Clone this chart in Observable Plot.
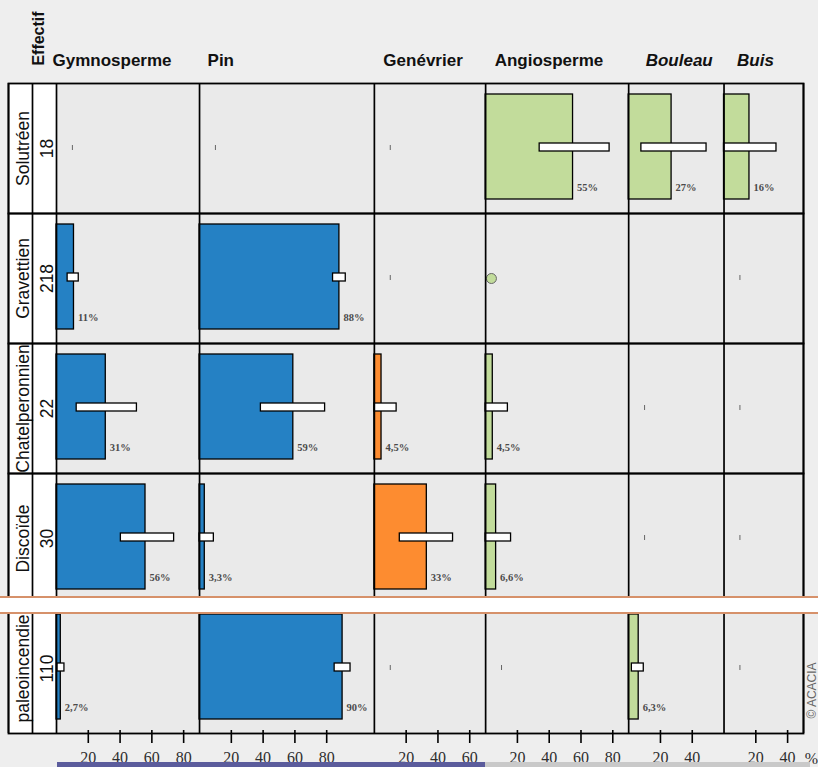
<!DOCTYPE html>
<html>
<head>
<meta charset="utf-8">
<script src="https://cdn.jsdelivr.net/npm/d3@7"></script>
<script src="https://cdn.jsdelivr.net/npm/@observablehq/plot@0.6"></script>
<style>
  html, body { margin: 0; padding: 0; background: #eeeeee; overflow: hidden; }
  #wrap { position: relative; width: 818px; height: 767px; }
  #chart svg { overflow: hidden; display: block; }
  .strip { position: absolute; top: 762px; height: 5px; }
</style>
</head>
<body>
<div id="wrap">
  <div id="chart"></div>
  <div class="strip" style="left:57px;width:428px;background:#5b5c9c;"></div>
  <div class="strip" style="left:485px;width:325px;background:#c9c9c9;"></div>
</div>
<script>
// ---- data ----
const rows = ["Solutréen", "Gravettien", "Chatelperonnien", "Discoïde", "paleoincendie"];
const effectifs = [18, 218, 22, 30, 110];
const taxa = ["Gymnosperme", "Pin", "Genévrier", "Angiosperme", "Bouleau", "Buis"];
const axisMax = [90, 110, 70, 90, 60, 50];
const tickLabels = [[20, 40, 60, 80], [20, 40, 60, 80], [20, 40, 60], [20, 40, 60, 80], [20, 40], [20, 40]];

// percentages per taxon, in row order (null = nothing drawn, 0 = absent)
const gymnosperme = [0, 11, 31, 56, 2.7];
const pin = [0, 88, 59, 3.3, 90];
const genevrier = [0, 0, 4.5, 33, 0];
const angiosperme = [55, 0.5, 4.5, 6.6, 0];
const bouleau = [27, null, 0, 0, 6.3];
const buis = [16, 0, 0, 0, 0];

// confidence intervals (low / high)
const gymnoLow = [null, 7, 12.7, 40.5, 0.6], gymnoHigh = [null, 14, 50.6, 74, 5];
const pinLow = [null, 84, 38.6, 0, 85], pinHigh = [null, 92, 79, 9, 95];
const genLow = [null, null, 0, 16, null], genHigh = [null, null, 14, 49.5, null];
const angioLow = [34, null, 0, 0, null], angioHigh = [78, null, 14, 16, null];
const bouleauLow = [8, null, null, null, 2], bouleauHigh = [49, null, null, null, 9.5];
const buisLow = [0, null, null, null, null], buisHigh = [33, null, null, null, null];

const absentMark = 10; // position of the small marker for 0 %

// ---- build tables ----
const series = [gymnosperme, pin, genevrier, angiosperme, bouleau, buis];
const lows = [gymnoLow, pinLow, genLow, angioLow, bouleauLow, buisLow];
const highs = [gymnoHigh, pinHigh, genHigh, angioHigh, bouleauHigh, buisHigh];
const offsets = axisMax.map((_, j) => d3.sum(axisMax.slice(0, j)));
const T = d3.sum(axisMax);

const cells = rows.flatMap((r, i) => taxa.map((t, j) => ({
  row: r, taxon: t, off: offsets[j],
  value: series[j][i], low: lows[j][i], high: highs[j][i]
})));
const bars = cells.filter(d => d.value != null && d.value >= 1);
const dots = cells.filter(d => d.value != null && d.value > 0 && d.value < 1);
const zeros = cells.filter(d => d.value === 0);
const cis = cells.filter(d => d.low != null && d.high != null);

const W = 818, H = 767, mL = 8, mR = 15, mT = 82, mB = 34;
const labelPx = 48;
const pxPerUnit = (W - mL - mR - labelPx) / T;
const L = labelPx / pxPerUnit;
const lastRow = rows[rows.length - 1];

const tickAbs = taxa.flatMap((t, j) => tickLabels[j].map(v => offsets[j] + v));
const tickText = new Map(taxa.flatMap((t, j) => tickLabels[j].map(v => [offsets[j] + v, String(v)])));
const boundaries = [-L, -L / 2, ...offsets, T];
const fmtPct = v => String(v).replace(".", ",") + "%";
const titleNudgePx = {Gymnosperme: -4, Pin: 8, "Genévrier": 9, Angiosperme: 9, Bouleau: 17, Buis: 13};
const italic = new Set(["Bouleau", "Buis"]);

const rowTable = rows.map((r, i) => ({row: r, n: effectifs[i]}));
const titles = taxa.map((t, j) => ({taxon: t, x: offsets[j] + titleNudgePx[t] / pxPerUnit, row: rows[0]}));
const axisTicks = tickAbs.map(v => ({x: v, row: lastRow}));

const chart = Plot.plot({
  width: W, height: H,
  marginLeft: mL, marginRight: mR, marginTop: mT, marginBottom: mB,
  style: {fontFamily: "Liberation Serif", fontSize: "16px", color: "#2e2e2e", background: "#eeeeee"},
  x: {domain: [-L, T], ticks: tickAbs, tickFormat: d => tickText.get(d) ?? "", tickSize: 0, tickPadding: 18, label: null},
  fy: {domain: rows, padding: 0, axis: null},
  color: {domain: taxa, range: ["#2581c4", "#2581c4", "#fd8c30", "#c2dc9b", "#c2dc9b", "#c2dc9b"]},
  marks: [
    Plot.frame({fill: "#eaeaea"}),
    Plot.rect([0], {x1: -L, x2: 0, fill: "white"}),
    Plot.rect(bars, {fy: "row", x1: "off", x2: d => d.off + d.value, fill: "taxon", stroke: "black", strokeWidth: 1.3, insetTop: 11, insetBottom: 14}),
    Plot.rect(cis, {fy: "row", x1: d => d.off + d.low, x2: d => d.off + d.high, fill: "white", stroke: "black", strokeWidth: 1.3, insetTop: 60, insetBottom: 62}),
    Plot.tickX(zeros, {fy: "row", x: d => d.off + absentMark, stroke: "#666", strokeWidth: 1, insetTop: 62, insetBottom: 63}),
    Plot.dot(dots, {fy: "row", x: d => d.off + d.value, dx: 5, r: 5, fill: "taxon", stroke: "#666", strokeWidth: 1, frameAnchor: "middle"}),
    Plot.text(bars, {fy: "row", x: d => d.off + d.value, text: d => fmtPct(d.value), dx: 4, dy: -26, frameAnchor: "bottom", lineAnchor: "middle", textAnchor: "start", fontFamily: "Liberation Serif", fontWeight: "bold", fontSize: 10.5, fill: "#4a4a4a"}),
    Plot.text(rowTable, {fy: "row", x: -3 * L / 4, text: "row", rotate: -90, dx: 2.5, frameAnchor: "middle", lineAnchor: "middle", fontFamily: "Liberation Sans", fontSize: 17.5, fill: "#111", clip: true}),
    Plot.text(rowTable, {fy: "row", x: -L / 4, text: d => String(d.n), rotate: -90, dx: 2.5, frameAnchor: "middle", lineAnchor: "middle", fontFamily: "Liberation Sans", fontSize: 17.5, fill: "#111"}),
    Plot.ruleX(boundaries, {stroke: "black", strokeWidth: 1.7}),
    Plot.frame({stroke: "black", strokeWidth: 1.8}),
    Plot.ruleX(axisTicks, {fy: "row", x: "x", stroke: "black", strokeWidth: 1.6, insetTop: 127, insetBottom: -10}),
    Plot.text(titles.filter(d => !italic.has(d.taxon)), {fy: "row", x: "x", text: "taxon", frameAnchor: "top", lineAnchor: "middle", dy: -23, textAnchor: "start", fontFamily: "Liberation Sans", fontWeight: "bold", fontSize: 17, fill: "#111"}),
    Plot.text(titles.filter(d => italic.has(d.taxon)), {fy: "row", x: "x", text: "taxon", frameAnchor: "top", lineAnchor: "middle", dy: -23, textAnchor: "start", fontFamily: "Liberation Sans", fontWeight: "bold", fontStyle: "italic", fontSize: 17, fill: "#111"}),
    Plot.text([rows[0]], {fy: d => d, x: -L / 2, text: ["Effectif"], rotate: -90, dx: 6, frameAnchor: "top", lineAnchor: "middle", dy: -45, fontFamily: "Liberation Sans", fontWeight: "bold", fontSize: 16, fill: "#111"}),
    Plot.rect([lastRow], {fy: d => d, fill: "white", stroke: "#d6916a", strokeWidth: 2, insetTop: -6, insetBottom: 120, insetLeft: -14, insetRight: -24}),
    Plot.text([lastRow], {fy: d => d, x: T, text: ["%"], dx: 8, dy: 25, frameAnchor: "bottom", lineAnchor: "middle", fontFamily: "Liberation Serif", fontSize: 16, fill: "#2e2e2e"}),
    Plot.text([lastRow], {fy: d => d, x: T, text: ["© ACACIA"], rotate: -90, dx: 9, dy: -43, frameAnchor: "bottom", lineAnchor: "middle", fontFamily: "Liberation Sans", fontSize: 12, fill: "#666"})
  ]
});

document.getElementById("chart").appendChild(chart);
</script>
</body>
</html>
